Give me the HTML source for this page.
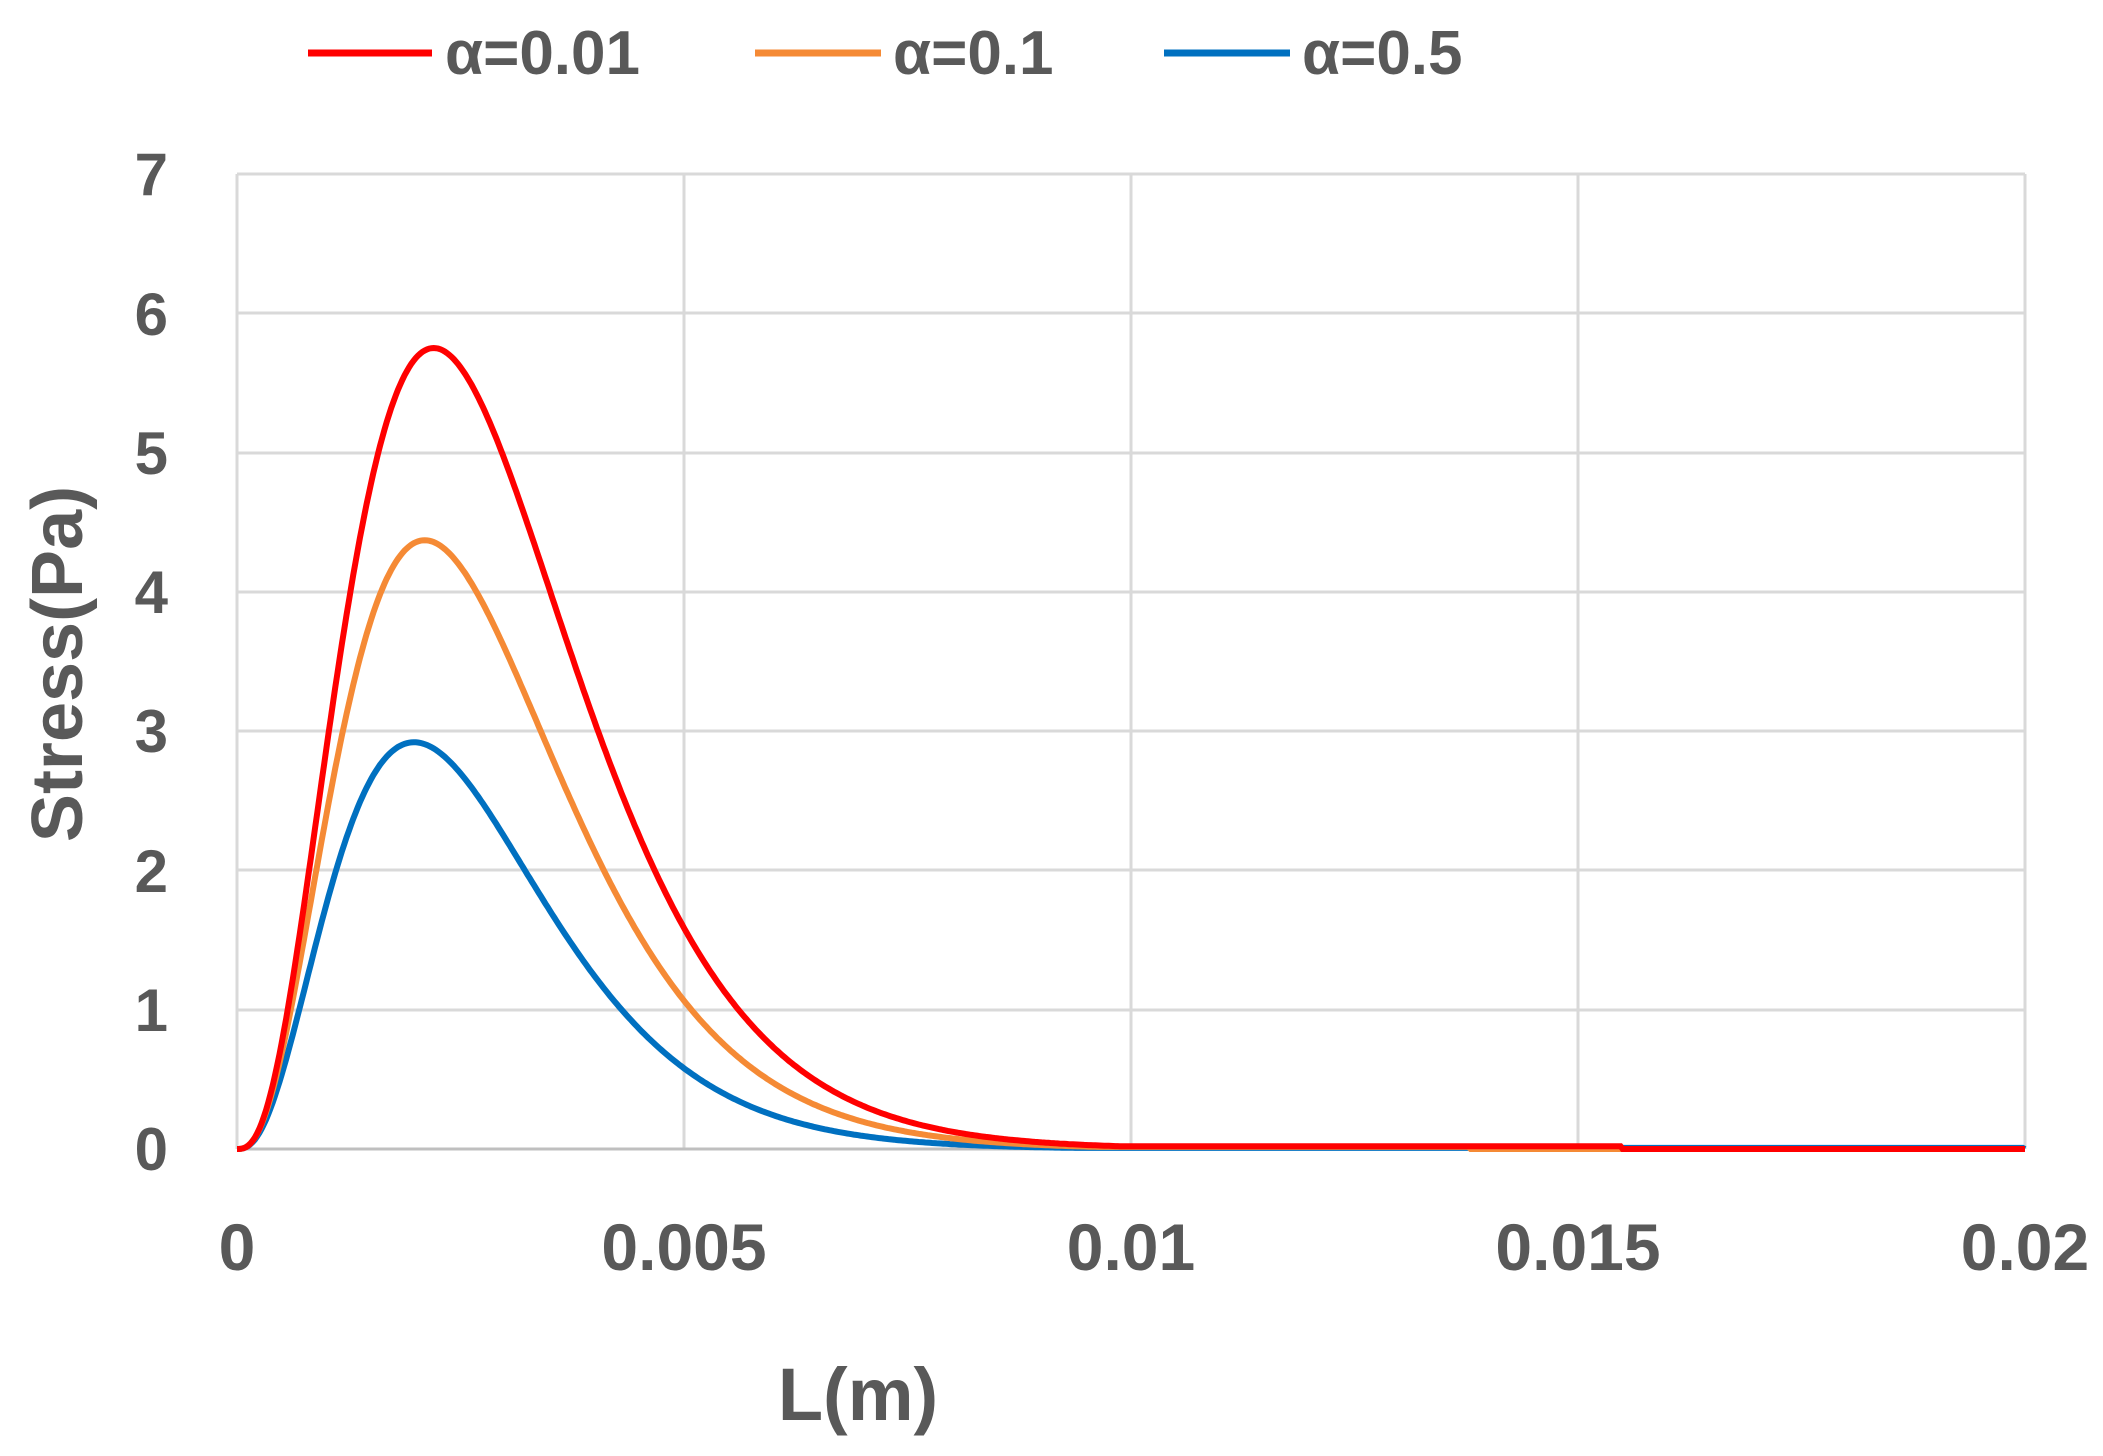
<!DOCTYPE html>
<html><head><meta charset="utf-8"><style>
html,body{margin:0;padding:0;background:#fff}
svg text{font-family:"Liberation Sans",sans-serif;font-weight:bold;fill:#595959}
</style></head><body>
<svg id="s" width="2103" height="1451" viewBox="0 0 2103 1451" xmlns="http://www.w3.org/2000/svg">
<g stroke="#d9d9d9" stroke-width="3">
<line x1="237" y1="174" x2="2025" y2="174"/><line x1="237" y1="313" x2="2025" y2="313"/>
<line x1="237" y1="453" x2="2025" y2="453"/><line x1="237" y1="592" x2="2025" y2="592"/>
<line x1="237" y1="731" x2="2025" y2="731"/><line x1="237" y1="870" x2="2025" y2="870"/>
<line x1="237" y1="1010" x2="2025" y2="1010"/>
<line x1="237" y1="174" x2="237" y2="1149"/><line x1="684" y1="174" x2="684" y2="1149"/>
<line x1="1131" y1="174" x2="1131" y2="1149"/><line x1="1578" y1="174" x2="1578" y2="1149"/>
<line x1="2025" y1="174" x2="2025" y2="1149"/>
</g>
<line x1="237" y1="1149" x2="2025" y2="1149" stroke="#bfbfbf" stroke-width="3"/>
<g id="curves" fill="none" stroke-width="6"></g>
<g font-size="60" text-anchor="end">
<text x="168" y="1170">0</text><text x="168" y="1031">1</text><text x="168" y="892">2</text>
<text x="168" y="752">3</text><text x="168" y="613">4</text><text x="168" y="474">5</text>
<text x="168" y="335">6</text><text x="168" y="195">7</text>
</g>
<g font-size="66" text-anchor="middle">
<text x="237" y="1270">0</text><text x="684" y="1270">0.005</text><text x="1131" y="1270">0.01</text>
<text x="1578" y="1270">0.015</text><text x="2025" y="1270">0.02</text>
</g>
<text x="858" y="1420" font-size="74" text-anchor="middle">L(m)</text>
<text transform="translate(82,664) rotate(-90)" font-size="72" text-anchor="middle">Stress(Pa)</text>
<g stroke-width="7">
<line x1="308" y1="53" x2="432" y2="53" stroke="#ff0000"/>
<line x1="755" y1="53" x2="881" y2="53" stroke="#f58a35"/>
<line x1="1164" y1="53" x2="1290" y2="53" stroke="#0070c0"/>
</g>
<g font-size="62">
<text x="445" y="74">α=0.01</text><text x="893" y="74">α=0.1</text><text x="1302" y="74">α=0.5</text>
</g>
</svg>
<script>
var g=document.getElementById('curves');
var S=[["#0070c0",2.92,0.00198,2.7,0.008,0.02],["#f58a35",4.37,0.0021,2.75,0.015,0.0138],["#ff0000",5.75,0.0022,2.85,0.02,0.0155]];
S.forEach(function(s){
 var d="";
 for(var i=0;i<=800;i++){
  var x=0.02*i/800, r=x/s[2];
  var f=x<=0?0:s[1]*Math.exp(s[3]*(Math.log(r)+1-r));
  if(x>0.006 && x<s[5]) f=Math.max(f,s[4]);
  var px=237+x/0.02*1788, py=1149-f*139.3;
  d+=(i?"L":"M")+px.toFixed(1)+","+py.toFixed(1);
 }
 var p=document.createElementNS("http://www.w3.org/2000/svg","path");
 p.setAttribute("d",d);p.setAttribute("stroke",s[0]);g.appendChild(p);
});
</script>
</body></html>
